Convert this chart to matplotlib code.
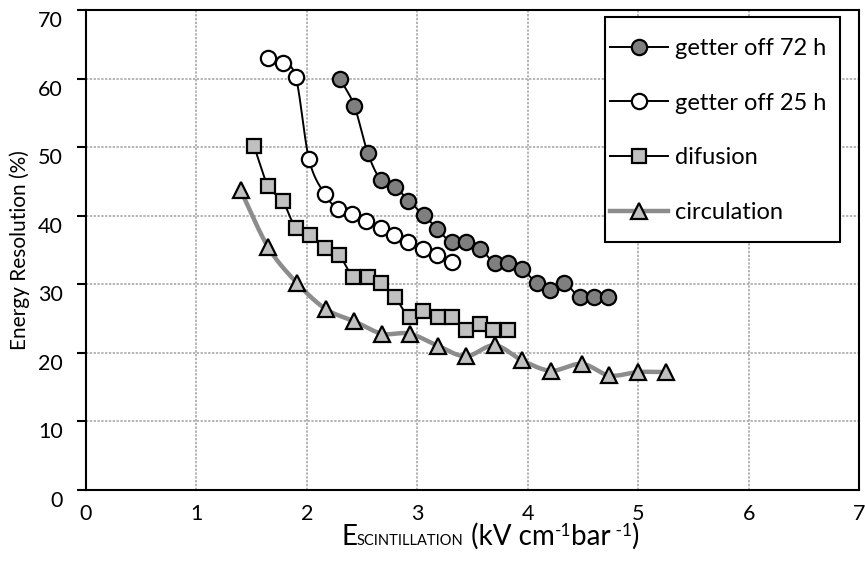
import numpy as np
import matplotlib
matplotlib.use("Agg")
import matplotlib.pyplot as plt
import matplotlib.transforms as mtrans
from matplotlib.lines import Line2D
from matplotlib.patches import Rectangle

plt.rcParams['font.family'] = ['Lato', 'DejaVu Sans']

# ---------------- data ----------------
g72_x = [2.3, 2.43, 2.55, 2.67, 2.8, 2.92, 3.06, 3.18, 3.31, 3.44, 3.57, 3.7, 3.82, 3.95, 4.08, 4.2, 4.33, 4.47, 4.6, 4.73]
g72_y = [60, 56, 49.2, 45.2, 44.2, 42.2, 40.1, 38.1, 36.1, 36.1, 35.2, 33.1, 33.1, 32.2, 30.2, 29.2, 30.2, 28.1, 28.1, 28.1]

g25_x = [1.65, 1.78, 1.9, 2.02, 2.16, 2.28, 2.41, 2.54, 2.67, 2.79, 2.92, 3.05, 3.18, 3.31]
g25_y = [63, 62.2, 60.2, 48.2, 43.2, 41, 40.2, 39.2, 38.2, 37.2, 36.1, 35.2, 34.2, 33.2]

dif_x = [1.52, 1.65, 1.78, 1.9, 2.03, 2.16, 2.29, 2.42, 2.55, 2.67, 2.8, 2.93, 3.05, 3.19, 3.31, 3.44, 3.57, 3.69, 3.82]
dif_y = [50.2, 44.3, 42.2, 38.2, 37.2, 35.3, 34.3, 31.1, 31.1, 30.2, 28.1, 25.2, 26.1, 25.2, 25.2, 23.3, 24.2, 23.3, 23.3]

cir_x = [1.4, 1.65, 1.91, 2.17, 2.43, 2.68, 2.93, 3.19, 3.44, 3.7, 3.95, 4.21, 4.49, 4.74, 5.0, 5.25]
cir_y = [43.7, 35.4, 30.2, 26.4, 24.6, 22.8, 22.8, 21.0, 19.5, 21.1, 18.9, 17.4, 18.4, 16.7, 17.2, 17.2]

labels = ['getter off 72 h', 'getter off 25 h', 'difusion', 'circulation']
x_ticks = [0, 1, 2, 3, 4, 5, 6, 7]
y_ticks = [0, 10, 20, 30, 40, 50, 60, 70]


def smooth(xs, ys, n=24):
    """Catmull-Rom curve through the points (line rendering only)."""
    p = np.column_stack([xs, ys]).astype(float)
    p = np.vstack([p[0] - (p[1] - p[0]), p, p[-1] + (p[-1] - p[-2])])
    out = []
    t = np.linspace(0, 1, n, endpoint=False)[:, None]
    for i in range(1, len(p) - 2):
        p0, p1, p2, p3 = p[i - 1], p[i], p[i + 1], p[i + 2]
        seg = 0.5 * ((2 * p1) + (-p0 + p2) * t + (2 * p0 - 5 * p1 + 4 * p2 - p3) * t ** 2
                     + (-p0 + 3 * p1 - 3 * p2 + p3) * t ** 3)
        out.append(seg)
    out.append(p[-2][None, :])
    out = np.vstack(out)
    return out[:, 0], out[:, 1]


W, H = 865, 569
fig = plt.figure(figsize=(W / 100, H / 100), dpi=100)
ax = fig.add_axes([86 / W, 1 - 490 / H, (859 - 86) / W, (490 - 10) / H])

series = [
    (g72_x, g72_y, dict(color='black', lw=1.4), dict(marker='o', mfc='#7f7f7f', ms=11)),
    (g25_x, g25_y, dict(color='black', lw=1.4), dict(marker='o', mfc='white', ms=11)),
    (dif_x, dif_y, dict(color='black', lw=1.4), dict(marker='s', mfc='#c0c0c0', ms=10.5)),
    (cir_x, cir_y, dict(color='#8c8c8c', lw=3.2), dict(marker='^', mfc='#c0c0c0', ms=12)),
]

handles = []
for (xs, ys, lkw, mkw), lab in zip(series, labels):
    sx, sy = smooth(xs, ys)
    ax.plot(sx, sy, zorder=3, solid_capstyle='round', **lkw)
    ax.plot(xs, ys, ls='none', mec='black', mew=1.6, zorder=4, **mkw)
    handles.append(Line2D([], [], mec='black', mew=1.6, label=lab, **lkw, **mkw))

ax.set_xlim(0, 7)
ax.set_ylim(0, 70)
ax.set_xticks(x_ticks)
ax.set_yticks(y_ticks)
ax.tick_params(axis='x', length=0, pad=10, labelsize=15.5)
ax.tick_params(axis='y', length=6.5, width=1.5, direction='out', pad=10, labelsize=15.5)
ax.grid(True, color='#a0a0a0', ls=(0, (1.5, 1)), lw=1.1, zorder=0)
for s in ax.spines.values():
    s.set_linewidth(1.5)
    s.set_color('black')

# y tick labels sit a little below their gridline, as in the reference
shift = mtrans.ScaledTranslation(0, -9 / 100, fig.dpi_scale_trans)
for lbl in ax.get_yticklabels():
    lbl.set_transform(lbl.get_transform() + shift)

ax.set_ylabel('Energy Resolution (%)', fontsize=15)
ax.yaxis.set_label_coords(-0.072, 0.5)

# legend: frame drawn separately for exact padding
ax.add_patch(Rectangle((0.6714, 0.5167), 0.304, 0.4687, transform=ax.transAxes,
                       facecolor='white', edgecolor='black', lw=1.5, zorder=5))
leg = ax.legend(handles=handles, loc='center left', bbox_to_anchor=(0.678, 0.749),
                borderaxespad=0, borderpad=0, fontsize=17, labelspacing=1.43,
                handlelength=2.45, handletextpad=0.3, frameon=False)
leg.set_zorder(6)

# x label: "E" + small caps subscript + units, built from pieces
fig.canvas.draw()
renderer = fig.canvas.get_renderer()
pieces = [('E', 20, 0), ('SCINTILLATION', 10.5, 0), (' (kV cm', 20, 0), ('-1', 12.5, 9),
          ('bar', 20, 0), (' -1', 12.5, 9), (')', 20, 0)]
texts = []
for s, size, dy in pieces:
    t = fig.text(0, 0, s, fontsize=size, va='baseline', ha='left')
    texts.append((t, dy))
fig.canvas.draw()
widths = [t.get_window_extent(renderer).width for t, _ in texts]
total = sum(widths)
x0 = 490 - total / 2
base = 24
for (t, dy), w in zip(texts, widths):
    t.set_position((x0 / W, (base + dy) / H))
    x0 += w

fig.savefig('out.png', dpi=100)
